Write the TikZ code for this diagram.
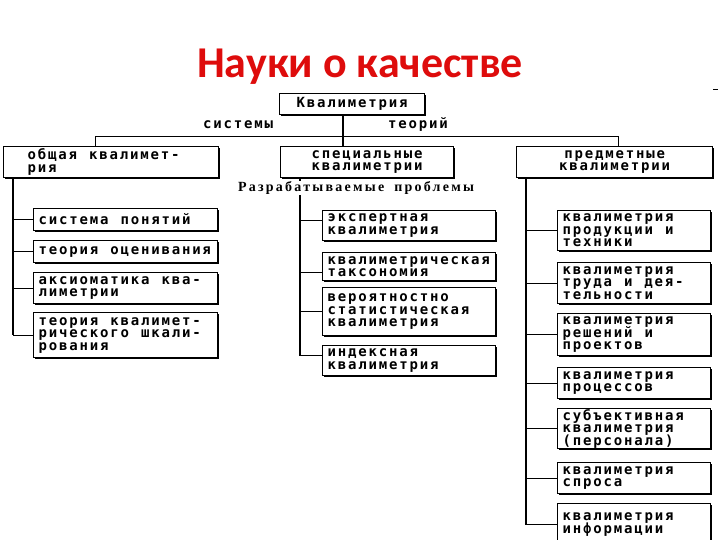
\documentclass[tikz,border=0pt]{standalone}
\usepackage{fontspec}
\usetikzlibrary{shadows}
\newfontfamily\boxfont{DejaVu Sans Mono Bold}[LetterSpace=13]
\newfontfamily\titlefont{Carlito}
\newfontfamily\probfont{Liberation Serif}[LetterSpace=16]
\newcommand{\wsp}{\hspace*{12pt}}
\definecolor{titlered}{RGB}{222,12,12}
\tikzset{
  qbox/.style={draw, line width=1.2pt, fill=white, anchor=north west, inner ysep=0pt,
    align=left, font=\boxfont\fontsize{14}{12.5}\selectfont,
    execute at begin node={\lineskiplimit=-20pt\relax},
    drop shadow={shadow xshift=1.6pt, shadow yshift=-1.6pt, opacity=1, fill=black}},
  lbox/.style={qbox, text width=174pt, inner xsep=5pt},
  mbox/.style={qbox, text width=163pt, inner xsep=5pt},
  rbox/.style={qbox, text width=143pt, inner xsep=5pt},
  lbl/.style={font=\boxfont\fontsize{14}{12.5}\selectfont, inner sep=0pt, anchor=base},
  trunk/.style={line width=2pt},
  mtrunk/.style={line width=2.6pt},
  tick/.style={line width=0.9pt},
  hline/.style={line width=0.9pt}
}
\begin{document}
\begin{tikzpicture}[x=1pt,y=-1pt]
\useasboundingbox (0,0) rectangle (720,540);
\clip (0,0) rectangle (720,540);
\fill[white] (0,0) rectangle (720,540);

\node[font=\titlefont\bfseries\fontsize{44}{50}\selectfont, text=titlered, inner sep=0pt] (title) at (360,67) {Науки о качестве};

% top level
\node[qbox, text width=135pt, inner xsep=5pt, minimum height=21pt, align=center] (kv) at (279,93) {Квалиметрия};
\node[qbox, text width=167pt, inner xsep=24pt, minimum height=31pt] (obs) at (3,146) {общая\wsp квалимет-\\рия};
\node[qbox, text width=163pt, inner xsep=5pt, minimum height=31pt, align=center] (spec) at (280,146) {специальные\\квалиметрии};
\node[qbox, text width=186pt, inner xsep=5pt, minimum height=31pt, align=center] (pred) at (516,146) {предметные\\квалиметрии};

\coordinate (hl) at (95,136);
\coordinate (hr) at (618,136);
\coordinate (lt) at (13,0);
\coordinate (mt) at (300,0);
\coordinate (rt) at (526,0);

\draw[mtrunk] ([xshift=-9pt]kv.south) -- ([xshift=-9pt]kv.south |- spec.north);
\draw[hline] (obs.north -| hl) -- (hl) -- (hr) -- (hr |- pred.north);
\node[lbl] (sys) at (238,129) {системы};
\node[lbl] (teo) at (418,129) {теорий};

% left column
\node[lbox, minimum height=22pt] (L1) at (33,208) {система\wsp понятий};
\node[lbox, minimum height=22pt] (L2) at (33,240) {теория\wsp оценивания};
\node[lbox, minimum height=31pt] (L3) at (33,272) {аксиоматика\wsp ква-\\лиметрии};
\node[lbox, minimum height=45pt] (L4) at (33,312) {теория\wsp квалимет-\\рического\wsp шкали-\\рования};

\draw[trunk] (obs.south -| lt) -- (L4.west -| lt);
\foreach \n in {L1,L2,L3,L4} \draw[tick] (\n.west -| lt) -- (\n.west);

% middle column
\node[mbox, minimum height=30pt] (M1) at (322,210) {экспертная\\квалиметрия};
\node[mbox, minimum height=28pt] (M2) at (322,252) {квалиметрическая\\таксономия};
\node[mbox, minimum height=48pt] (M3) at (322,287) {вероятностно\\статистическая\\квалиметрия};
\node[mbox, minimum height=30pt] (M4) at (322,345) {индексная\\квалиметрия};

\draw[mtrunk] (spec.south -| mt) -- ([yshift=5pt]M4.west -| mt);
\draw[tick] ([yshift=5pt]M1.west -| mt) -- ([yshift=5pt]M1.west);
\draw[tick] ([yshift=-6pt]M2.west -| mt) -- ([yshift=-6pt]M2.west);
\draw[tick] (M3.west -| mt) -- (M3.west);
\draw[tick] ([yshift=5pt]M4.west -| mt) -- ([yshift=5pt]M4.west);
\node[font=\probfont\bfseries\fontsize{14}{14}\selectfont, fill=white, inner sep=0.5pt] (prob) at (356,188) {Разрабатываемые\hspace*{10pt}проблемы};

% right column
\node[rbox, minimum height=40pt] (R1) at (557,210) {квалиметрия\\продукции\wsp и\\техники};
\node[rbox, minimum height=41pt] (R2) at (557,262) {квалиметрия\\труда\wsp и\wsp дея-\\тельности};
\node[rbox, minimum height=42pt] (R3) at (557,313) {квалиметрия\\решений\wsp и\\проектов};
\node[rbox, minimum height=31pt] (R4) at (557,367) {квалиметрия\\процессов};
\node[rbox, minimum height=40pt] (R5) at (557,408) {субъективная\\квалиметрия\\(персонала)};
\node[rbox, minimum height=31pt] (R6) at (557,462) {квалиметрия\\спроса};
\node[rbox, minimum height=42pt] (R7) at (557,503) {квалиметрия\\информации};

\draw[trunk] (pred.south -| rt) -- (R7.west -| rt);
\foreach \n in {R1,R2,R3,R4,R5,R6,R7} \draw[tick] (\n.west -| rt) -- (\n.west);

\draw[line width=0.8pt] (713,89) -- (718,89);
\end{tikzpicture}
\end{document}
